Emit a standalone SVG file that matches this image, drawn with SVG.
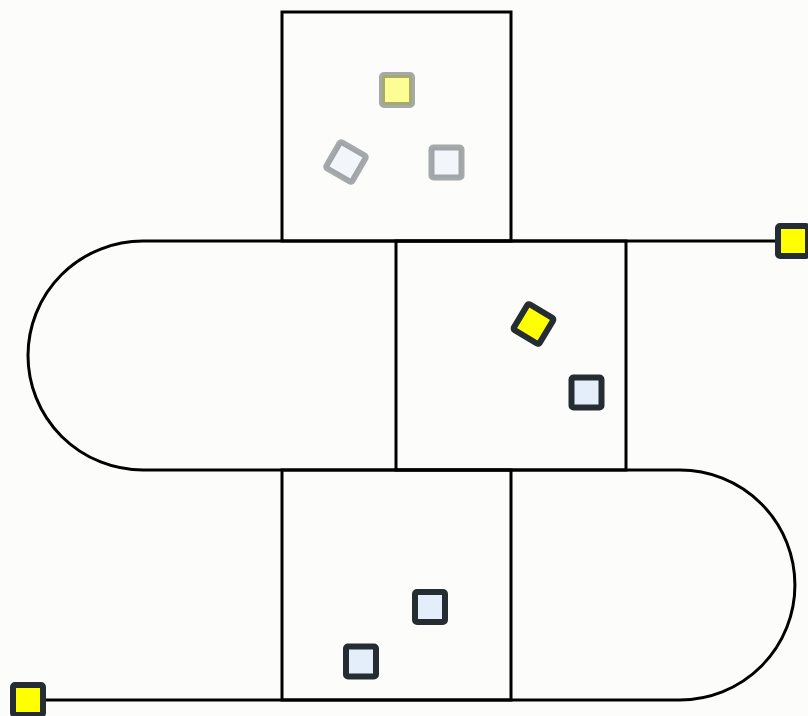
<svg xmlns="http://www.w3.org/2000/svg" width="808" height="716" viewBox="0 0 808 716">
<style>
.bg{fill:#fcfcfa}
.box{fill:none;stroke:#000;stroke-width:3;stroke-linecap:square}
.track{fill:none;stroke:#000;stroke-width:3}
.tok{stroke:#252d33;stroke-width:6;stroke-linejoin:round}
.y{fill:#ffff00}
.b{fill:#e4eefa}
.faded{fill-opacity:0.4;stroke-opacity:0.4}
</style>
<defs>
<rect id="sq" x="-15" y="-15" width="30" height="30" rx="2"/>
</defs>
<rect class="bg" x="0" y="0" width="808" height="716"/>
<g id="connectors">
<path class="track" d="M 28 700 L 680 700 A 115 115 0 0 0 680 470 L 143 470 A 115 114.5 0 0 1 143 241 L 792 241"/>
</g>
<g id="box-top">
<rect class="box" x="282" y="12" width="229" height="229"/>
</g>
<g id="box-middle">
<rect class="box" x="396" y="241" width="230" height="229"/>
</g>
<g id="box-bottom">
<rect class="box" x="282" y="470" width="229" height="230"/>
</g>
<g id="tok-top-yellow"><use href="#sq" class="tok y faded" transform="translate(397,90)"/></g>
<g id="tok-top-rot"><use href="#sq" class="tok b faded" transform="translate(346,162) rotate(30)"/></g>
<g id="tok-top-blue"><use href="#sq" class="tok b faded" transform="translate(446.5,162.5)"/></g>
<g id="tok-mid-yellow"><use href="#sq" class="tok y" transform="translate(533.5,324) rotate(31)"/></g>
<g id="tok-mid-blue"><use href="#sq" class="tok b" transform="translate(586.5,392.5)"/></g>
<g id="tok-bot-blue1"><use href="#sq" class="tok b" transform="translate(430,607)"/></g>
<g id="tok-bot-blue2"><use href="#sq" class="tok b" transform="translate(361,661.5)"/></g>
<g id="end-right"><use href="#sq" class="tok y" transform="translate(793,241)"/></g>
<g id="end-left"><use href="#sq" class="tok y" transform="translate(28,700)"/></g>
</svg>
